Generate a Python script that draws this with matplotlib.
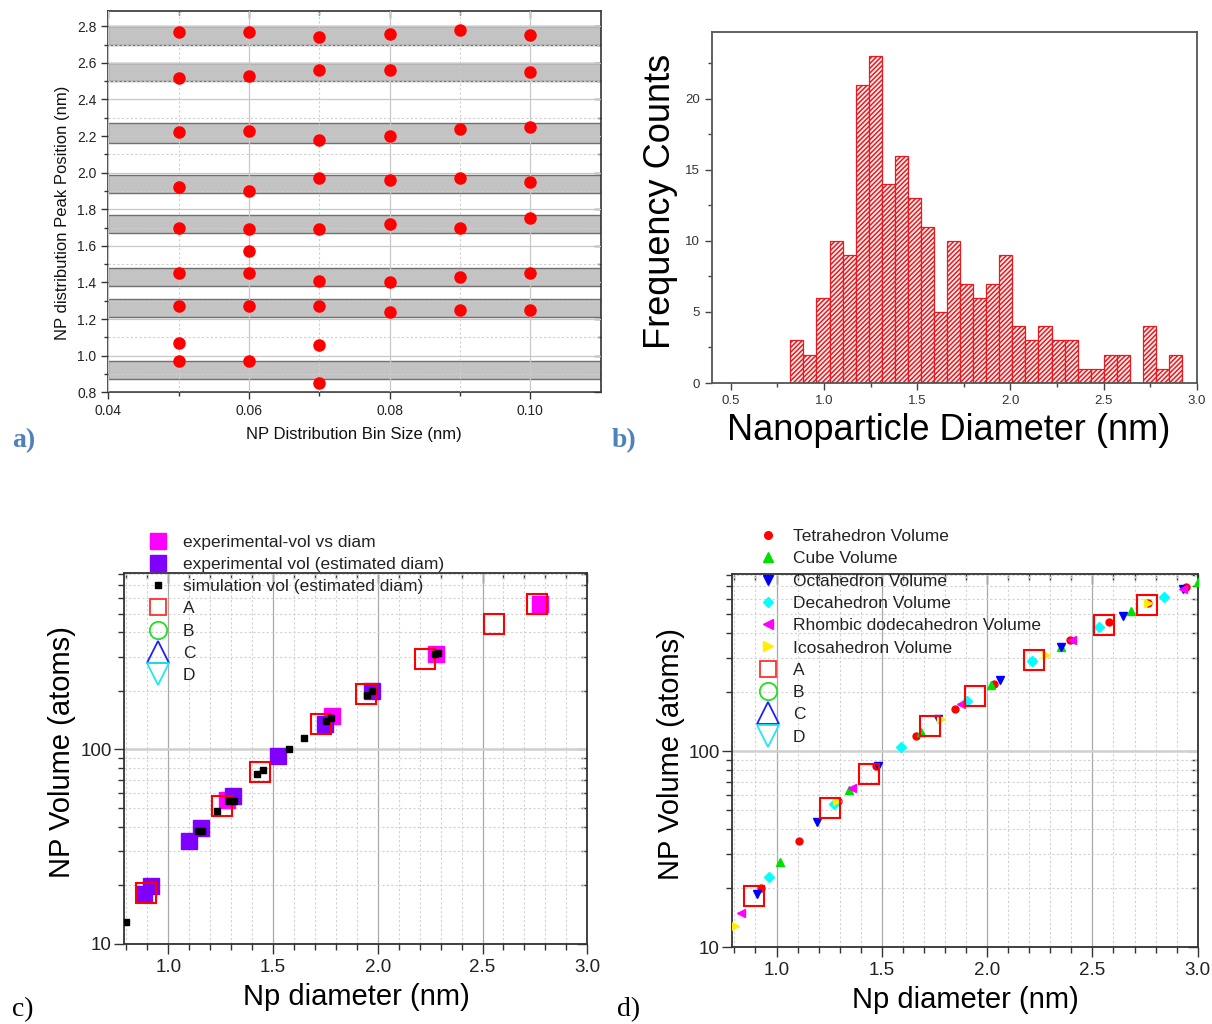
import numpy as np
import matplotlib
matplotlib.use("Agg")
import matplotlib.pyplot as plt
from matplotlib.ticker import MultipleLocator, NullFormatter, FormatStrFormatter, FixedLocator
from matplotlib.lines import Line2D

plt.rcParams['font.family'] = ['Liberation Sans', 'DejaVu Sans']
plt.rcParams['hatch.linewidth'] = 1.1

# ---------------- (a) peak positions vs. bin size ----------------
bin_sizes = [0.05, 0.06, 0.07, 0.08, 0.09, 0.10]
peaks_005 = [2.77, 2.52, 2.22, 1.92, 1.70, 1.45, 1.27, 1.07, 0.97]
peaks_006 = [2.77, 2.53, 2.23, 1.90, 1.69, 1.57, 1.45, 1.27, 0.97]
peaks_007 = [2.74, 2.56, 2.18, 1.97, 1.69, 1.41, 1.27, 1.06, 0.85]
peaks_008 = [2.76, 2.56, 2.20, 1.96, 1.72, 1.40, 1.24]
peaks_009 = [2.78, 2.24, 1.97, 1.70, 1.43, 1.25]
peaks_010 = [2.75, 2.55, 2.25, 1.95, 1.75, 1.45, 1.25]
peak_sets = [peaks_005, peaks_006, peaks_007, peaks_008, peaks_009, peaks_010]
band_low = [2.70, 2.50, 2.16, 1.89, 1.67, 1.38, 1.21, 0.87]
band_high = [2.80, 2.60, 2.27, 1.99, 1.77, 1.48, 1.31, 0.97]

# ---------------- (b) size histogram ----------------
hist_first_edge = 0.82
hist_bin_width = 0.07
hist_counts = [3, 2, 6, 10, 9, 21, 23, 14, 16, 13, 11, 5, 10, 7, 6,
               7, 9, 4, 3, 4, 3, 3, 1, 1, 2, 2, 0, 4, 1, 2]

# ---------------- (c) volume vs diameter ----------------
exp_diam = [1.28, 1.781, 2.28, 2.775]
exp_vol = [55, 148, 309, 561]
est_diam = [0.886, 0.918, 1.098, 1.156, 1.309, 1.524, 1.746, 1.974]
est_vol = [18.1, 19.9, 34.0, 39.7, 57.5, 92.4, 136, 200]
sim_diam = [0.80, 1.14, 1.16, 1.234, 1.288, 1.312, 1.424, 1.452, 1.577,
            1.646, 1.754, 1.778, 1.95, 1.974, 2.275, 2.285]
sim_vol = [12.9, 37.9, 37.9, 48.4, 54.5, 54.5, 74.7, 78.3, 100,
           115, 140, 146, 190, 200, 308, 315]
a_diam = [0.894, 1.256, 1.44, 1.73, 1.944, 2.225, 2.557, 2.759]
a_vol = [18.3, 51.3, 76.5, 135, 192, 291, 444, 558]

# ---------------- (d) polyhedral volumes ----------------
tet_diam = [0.924, 1.106, 1.29, 1.473, 1.663, 1.847, 2.031, 2.214, 2.392, 2.581, 2.765, 2.946]
tet_vol = [20.0, 34.9, 56, 83.8, 120, 165, 221, 289, 369, 460, 569, 688]
cube_diam = [1.016, 1.346, 1.687, 2.019, 2.349, 2.683, 3.003]
cube_vol = [27.1, 63.7, 125, 217, 343, 519, 731]
oct_diam = [0.905, 1.193, 1.484, 1.765, 2.063, 2.349, 2.643, 2.929]
oct_vol = [18.7, 43.4, 84.5, 146, 231, 343, 490, 671]
dec_diam = [0.965, 1.274, 1.589, 1.905, 2.214, 2.529, 2.841]
dec_vol = [22.8, 54.0, 105, 180, 289, 430, 615]
rho_diam = [0.833, 1.357, 1.876, 2.405, 2.929]
rho_vol = [14.9, 65, 175, 372, 671]
ico_diam = [0.801, 1.286, 1.781, 2.278, 2.765]
ico_vol = [12.8, 55.5, 146, 309, 569]

W, H = 1212, 1024
fig = plt.figure(figsize=(W / 100, H / 100), dpi=100)


def box(left, top, right, bottom):
    return [left / W, 1 - bottom / H, (right - left) / W, (bottom - top) / H]


def mirror_ticks(ax, xmaj, xmin, ymaj, ymin, length=(5, 3), color='#333333'):
    top = ax.secondary_xaxis('top')
    top.xaxis.set_major_locator(FixedLocator(xmaj))
    top.xaxis.set_minor_locator(FixedLocator(xmin))
    top.tick_params(which='both', direction='in', labeltop=False, color=color, width=1)
    top.tick_params(which='major', length=length[0])
    top.tick_params(which='minor', length=length[1])
    top.spines['top'].set_visible(False)
    right = ax.secondary_yaxis('right')
    right.yaxis.set_major_locator(FixedLocator(ymaj))
    right.yaxis.set_minor_locator(FixedLocator(ymin))
    right.yaxis.set_minor_formatter(NullFormatter())
    right.tick_params(which='both', direction='in', labelright=False, color=color, width=1)
    right.tick_params(which='major', length=length[0])
    right.tick_params(which='minor', length=length[1])
    right.spines['right'].set_visible(False)


# ================= panel (a) =================
ax = fig.add_axes(box(108.3, 10.7, 600.7, 392.3))
for lo, hi in zip(band_low, band_high):
    ax.axhspan(lo, hi, facecolor='#c3c3c3', edgecolor='#707070', lw=1.0, zorder=1)
for xb, ys in zip(bin_sizes, peak_sets):
    ax.plot([xb] * len(ys), ys, 'o', color='#ff0000', ms=8.0, mec='#ff0000', zorder=4)
ax.set_xlim(0.04, 0.11)
ax.set_ylim(0.8, 2.885)
ax.xaxis.set_major_locator(FixedLocator([0.04, 0.06, 0.08, 0.10]))
ax.xaxis.set_minor_locator(FixedLocator([0.05, 0.07, 0.09]))
ax.xaxis.set_major_formatter(FormatStrFormatter('%.2f'))
ax.yaxis.set_major_locator(MultipleLocator(0.2))
ax.yaxis.set_minor_locator(MultipleLocator(0.1))
ax.yaxis.set_major_formatter(FormatStrFormatter('%.1f'))
ax.set_axisbelow(False)
ax.grid(which='major', color='#c8c8c8', lw=0.9, ls='-')
ax.grid(which='minor', color='#cfcfcf', lw=0.8, ls=(0, (2, 2)))
ax.tick_params(which='both', direction='out', color='#333333', labelcolor='#222222', labelsize=10, width=1)
ax.tick_params(which='major', length=5)
ax.tick_params(which='minor', length=3)
for s in ax.spines.values():
    s.set_color('#333333')
    s.set_linewidth(1.2)
mirror_ticks(ax, [0.04, 0.06, 0.08, 0.10], [0.05, 0.07, 0.09],
             list(np.round(np.arange(0.8, 2.81, 0.2), 2)), list(np.round(np.arange(0.9, 2.81, 0.2), 2)))
fig.text(354 / W, 1 - 435 / H, 'NP Distribution Bin Size (nm)', fontsize=12, ha='center', va='center', color='#111111')
fig.text(63 / W, 1 - 213 / H, 'NP distribution Peak Position (nm)', fontsize=12, rotation=90,
         ha='center', va='center', color='#111111')
fig.text(12 / W, 1 - 441 / H, 'a)', fontsize=20, fontweight='bold', color='#4f81bd',
         family='Liberation Serif', ha='left', va='center')

# ================= panel (b) =================
ax = fig.add_axes(box(712, 32, 1197, 383))
left_edges = hist_first_edge + hist_bin_width * np.arange(len(hist_counts))
ax.bar(left_edges, hist_counts, width=hist_bin_width, align='edge', facecolor='#fff0f0',
       edgecolor='#e8191f', hatch='///////', lw=0.9)
ax.set_xlim(0.4, 3.0)
ax.set_ylim(0, 24.7)
ax.xaxis.set_major_locator(MultipleLocator(0.5))
ax.xaxis.set_minor_locator(MultipleLocator(0.25))
ax.xaxis.set_major_formatter(FormatStrFormatter('%.1f'))
ax.yaxis.set_major_locator(FixedLocator([0, 5, 10, 15, 20]))
ax.yaxis.set_minor_locator(FixedLocator([2.5, 7.5, 12.5, 17.5, 22.5]))
ax.tick_params(which='both', direction='out', color='#444444', labelcolor='#333333', labelsize=9.5, width=1)
ax.tick_params(which='major', length=5)
ax.tick_params(which='minor', length=3)
for s in ax.spines.values():
    s.set_color('#555555')
    s.set_linewidth(1.3)
fig.text(949 / W, 1 - 431 / H, 'Nanoparticle Diameter (nm)', fontsize=26, ha='center', va='center')
fig.text(660 / W, 1 - 201 / H, 'Frequency Counts', fontsize=26, rotation=90, ha='center', va='center')
fig.text(612 / W, 1 - 441 / H, 'b)', fontsize=20, fontweight='bold', color='#4f81bd',
         family='Liberation Serif', ha='left', va='center')


def style_loglog(ax):
    ax.set_yscale('log')
    ax.set_xlim(0.79, 3.0)
    ax.set_ylim(10, 805)
    ax.xaxis.set_major_locator(MultipleLocator(0.5))
    ax.xaxis.set_minor_locator(MultipleLocator(0.1))
    ax.xaxis.set_major_formatter(FormatStrFormatter('%.1f'))
    ax.yaxis.set_major_locator(FixedLocator([10, 100]))
    ax.yaxis.set_major_formatter(FormatStrFormatter('%d'))
    minors = [v * m for v in (10, 100) for m in range(2, 10)]
    ax.yaxis.set_minor_locator(FixedLocator(minors))
    ax.yaxis.set_minor_formatter(NullFormatter())
    ax.set_axisbelow(True)
    ax.grid(which='major', axis='x', color='#a8a8a8', lw=0.9)
    ax.grid(which='major', axis='y', color='#cfcfcf', lw=1.8)
    ax.grid(which='minor', color='#d2d2d2', lw=0.8, ls=(0, (2, 2)))
    ax.tick_params(which='both', direction='out', color='#333333', labelcolor='#222222', labelsize=13.5, width=1)
    ax.tick_params(axis='y', which='major', pad=2)
    ax.tick_params(which='major', length=7)
    ax.tick_params(which='minor', length=4)
    for s in ax.spines.values():
        s.set_color('#333333')
        s.set_linewidth(1.3)
    mirror_ticks(ax, [1.0, 1.5, 2.0, 2.5, 3.0],
                 [0.8, 0.9, 1.1, 1.2, 1.3, 1.4, 1.6, 1.7, 1.8, 1.9, 2.1, 2.2, 2.3, 2.4, 2.6, 2.7, 2.8, 2.9],
                 [10, 100], minors, length=(7, 4))


legend_kw = dict(loc='upper left', frameon=False, fontsize=12.5, handlelength=1.4,
                 handletextpad=0.74, labelspacing=0.41, borderpad=0, borderaxespad=0,
                 labelcolor='#222222')


def empty_handle(marker, color, ms, mew=1.3):
    return Line2D([], [], ls='none', marker=marker, ms=ms, mew=mew, mfc='none', mec=color)


# ================= panel (c) =================
ax = fig.add_axes(box(124.3, 573.3, 587.3, 944))
style_loglog(ax)
ax.plot(exp_diam, exp_vol, 's', ms=11, color='#ff00ff', mec='#ff00ff', zorder=3)
ax.plot(est_diam, est_vol, 's', ms=11, color='#8000ff', mec='#8000ff', zorder=3)
ax.plot(a_diam, a_vol, 's', ms=15, mfc='none', mec='#ff0000', mew=1.5, zorder=4)
ax.plot(sim_diam, sim_vol, 's', ms=4.5, color='black', zorder=5)
handles_c = [
    Line2D([], [], ls='none', marker='s', ms=11, color='#ff00ff'),
    Line2D([], [], ls='none', marker='s', ms=11, color='#8000ff'),
    Line2D([], [], ls='none', marker='s', ms=4.5, color='black'),
    empty_handle('s', '#ff3030', 11.5),
    empty_handle('o', '#20e020', 12.5),
    empty_handle('^', '#2020ff', 16),
    empty_handle('v', '#20e8f0', 16),
]
labels_c = ['experimental-vol vs diam', 'experimental vol (estimated diam)',
            'simulation vol (estimated diam)', 'A', 'B', 'C', 'D']
fig.legend(handles_c, labels_c, bbox_to_anchor=(145.8 / W, 1 - 534.5 / H), **legend_kw)
fig.text(356 / W, 1 - 997 / H, 'Np diameter (nm)', fontsize=21, ha='center', va='center')
fig.text(62 / W, 1 - 752 / H, 'NP Volume (atoms)', fontsize=21, rotation=90, ha='center', va='center')
fig.text(12 / W, 1 - 1010 / H, 'c)', fontsize=20, family='Liberation Serif', ha='left', va='center')

# ================= panel (d) =================
ax = fig.add_axes(box(732.3, 574, 1197.7, 947))
style_loglog(ax)
series_d = [
    (tet_diam, tet_vol, 'o', '#ff0000', 5.0, 'Tetrahedron Volume'),
    (cube_diam, cube_vol, '^', '#00e000', 6.0, 'Cube Volume'),
    (oct_diam, oct_vol, 'v', '#0000ff', 6.0, 'Octahedron Volume'),
    (dec_diam, dec_vol, 'D', '#00ffff', 5.0, 'Decahedron Volume'),
    (rho_diam, rho_vol, '<', '#ff00ff', 6.0, 'Rhombic dodecahedron Volume'),
    (ico_diam, ico_vol, '>', '#ffee00', 6.0, 'Icosahedron Volume'),
]
handles_d, labels_d = [], []
for xs, ys, mk, col, ms, lab in series_d:
    ax.plot(xs, ys, mk, color=col, mec=col, ms=ms, zorder=3)
    handles_d.append(Line2D([], [], ls='none', marker=mk, color=col, ms=ms + 0.5))
    labels_d.append(lab)
ax.plot(a_diam, a_vol, 's', ms=15, mfc='none', mec='#ff0000', mew=1.5, zorder=4)
handles_d += [empty_handle('s', '#ff3030', 11.5), empty_handle('o', '#20e020', 12.5),
              empty_handle('^', '#2020ff', 16), empty_handle('v', '#20e8f0', 16)]
labels_d += ['A', 'B', 'C', 'D']
fig.legend(handles_d, labels_d, bbox_to_anchor=(755.8 / W, 1 - 529 / H), **legend_kw)
fig.text(965 / W, 1 - 1000 / H, 'Np diameter (nm)', fontsize=21, ha='center', va='center')
fig.text(671 / W, 1 - 754 / H, 'NP Volume (atoms)', fontsize=21, rotation=90, ha='center', va='center')
fig.text(617 / W, 1 - 1010 / H, 'd)', fontsize=20, family='Liberation Serif', ha='left', va='center')

fig.savefig('out.png', dpi=100, facecolor='white')
